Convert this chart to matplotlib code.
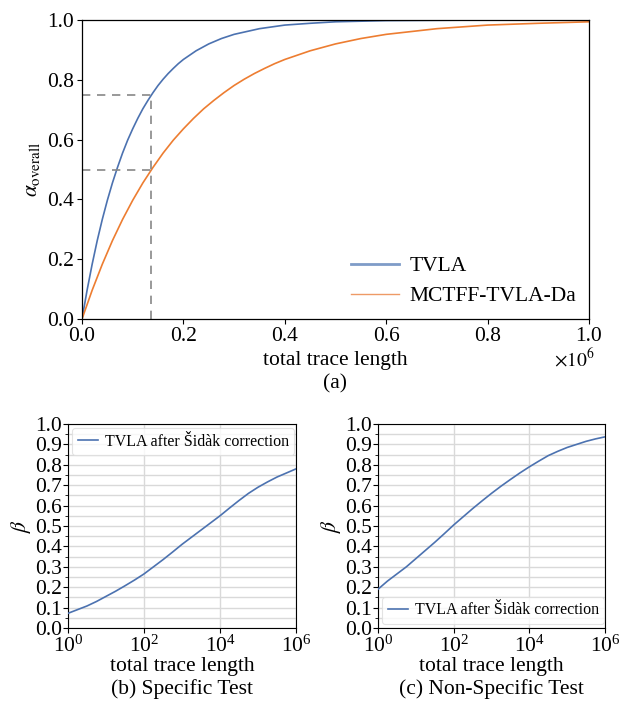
import numpy as np
import matplotlib
matplotlib.use("Agg")
import matplotlib.pyplot as plt
from matplotlib.ticker import MultipleLocator, FixedLocator, NullLocator
from matplotlib.lines import Line2D

plt.rcParams['font.family'] = ['Liberation Serif', 'DejaVu Serif']
plt.rcParams['mathtext.fontset'] = 'stix'

# ---- panel (a) data (x in units of 1e6) ----
tvla_x = [0, 0.01, 0.02, 0.03, 0.04, 0.05, 0.06, 0.07, 0.08, 0.09, 0.10, 0.11, 0.12, 0.13,
          0.14, 0.15, 0.16, 0.17, 0.18, 0.19, 0.20, 0.225, 0.25, 0.275, 0.3, 0.35, 0.4, 0.45,
          0.5, 0.6, 0.7, 0.8, 0.9, 1.0]
tvla_y = [0, 0.096, 0.183, 0.262, 0.333, 0.397, 0.455, 0.507, 0.555, 0.598, 0.636, 0.671, 0.703, 0.731,
          0.757, 0.781, 0.802, 0.821, 0.838, 0.854, 0.868, 0.897, 0.920, 0.938, 0.952, 0.971, 0.983, 0.989,
          0.994, 0.998, 0.999, 1.0, 1.0, 1.0]
mctff_x = [0, 0.02, 0.04, 0.06, 0.08, 0.10, 0.12, 0.14, 0.16, 0.18, 0.20, 0.22, 0.24, 0.26,
           0.28, 0.30, 0.32, 0.34, 0.36, 0.38, 0.40, 0.45, 0.5, 0.55, 0.6, 0.7, 0.8, 0.9, 1.0]
mctff_y = [0, 0.096, 0.183, 0.262, 0.333, 0.397, 0.455, 0.507, 0.555, 0.598, 0.636, 0.671, 0.703, 0.731,
           0.757, 0.781, 0.802, 0.821, 0.838, 0.854, 0.868, 0.897, 0.920, 0.938, 0.952, 0.971, 0.983, 0.989, 0.994]
ref_x = 0.137
ref_levels = [0.75, 0.5]

# ---- panel (b)/(c) data ----
log_x = [0, 0.25, 0.5, 0.75, 1.0, 1.25, 1.5, 1.75, 2.0, 2.25, 2.5, 2.75, 3.0,
         3.25, 3.5, 3.75, 4.0, 4.25, 4.5, 4.75, 5.0, 5.25, 5.5, 5.75, 6.0]
beta_specific = [0.072, 0.09, 0.108, 0.13, 0.155, 0.18, 0.207, 0.235, 0.265, 0.30, 0.335, 0.372, 0.41,
                 0.445, 0.48, 0.515, 0.55, 0.588, 0.625, 0.66, 0.69, 0.716, 0.74, 0.76, 0.78]
beta_nonspecific = [0.19, 0.23, 0.265, 0.30, 0.34, 0.38, 0.42, 0.462, 0.505, 0.545, 0.585, 0.623, 0.66,
                    0.695, 0.728, 0.76, 0.79, 0.818, 0.845, 0.866, 0.885, 0.90, 0.915, 0.927, 0.937]
log_ticks = [1, 1e2, 1e4, 1e6]

W, H = 619, 715
fig = plt.figure(figsize=(W / 100, H / 100), dpi=100)

def ax_px(l, r, t, b):
    return fig.add_axes([l / W, 1 - b / H, (r - l) / W, (b - t) / H])

blue = '#4c72b0'
orange = '#ed7d31'
fs = 15.5

# ---- top panel ----
ax = ax_px(82, 589, 20, 319)
ax.plot(tvla_x, tvla_y, color=blue, lw=1.2)
ax.plot(mctff_x, mctff_y, color=orange, lw=1.2)
for lvl in ref_levels:
    ax.plot([0, ref_x], [lvl, lvl], ls=(0, (5, 4)), color='#888888', lw=1.2)
ax.plot([ref_x, ref_x], [0, ref_levels[0]], ls=(0, (5, 4)), color='#888888', lw=1.2)
ax.set_xlim(0, 1)
ax.set_ylim(0, 1)
ax.xaxis.set_major_locator(MultipleLocator(0.2))
ax.yaxis.set_major_locator(MultipleLocator(0.2))
ax.set_xticklabels([f"{v:.1f}" for v in ax.get_xticks()])
ax.set_yticklabels([f"{v:.1f}" for v in ax.get_yticks()])
ax.tick_params(labelsize=fs, length=3.5, width=0.8, direction='out', pad=2)
ax.set_xlabel('total trace length', fontsize=fs, labelpad=4)
ax.set_ylabel(r'$\alpha_{\mathrm{overall}}$', fontsize=fs, labelpad=4)
fig.text(595 / W, 1 - 348 / H, r'$\times10^{6}$', ha='right', va='top', fontsize=14)
handles = [Line2D([], [], color='#7f9cc8', lw=2.0), Line2D([], [], color='#ee9a66', lw=1.0)]
ax.legend(handles, ['TVLA', 'MCTFF-TVLA-Da'], loc='lower right', frameon=False,
          fontsize=fs, handlelength=2.2, handletextpad=0.5, borderaxespad=0.2, labelspacing=0.45)
for s in ax.spines.values():
    s.set_linewidth(0.9)
fig.text((82 + 589) / 2 / W, 1 - 384 / H, '(a)', ha='center', va='center', fontsize=fs)

# ---- bottom panels ----
def beta_panel(l, r, ys, legend_loc, caption):
    a = ax_px(l, r, 424, 628)
    xs = [10 ** v for v in log_x]
    a.plot(xs, ys, color=blue, lw=1.2, label='TVLA after Šidàk correction', zorder=3)
    a.set_xscale('log')
    a.set_xlim(1, 1e6)
    a.set_ylim(0, 1)
    a.xaxis.set_major_locator(FixedLocator(log_ticks))
    a.xaxis.set_minor_locator(NullLocator())
    a.yaxis.set_major_locator(MultipleLocator(0.1))
    a.yaxis.set_minor_locator(MultipleLocator(0.05))
    a.grid(True, which='major', color='#d9d9d9', lw=1.0)
    a.grid(True, which='minor', axis='y', color='#d9d9d9', lw=1.0)
    a.set_axisbelow(True)
    a.tick_params(labelsize=fs, length=3.5, width=0.8, pad=1)
    a.tick_params(axis='x', pad=2)
    a.tick_params(which='minor', length=2, width=0.6)
    a.set_yticklabels([f"{v:.1f}" for v in a.get_yticks()])
    a.set_xlabel('total trace length', fontsize=fs, labelpad=0)
    a.set_ylabel(r'$\beta$', fontsize=fs, labelpad=1)
    leg = a.legend(loc=legend_loc, fontsize=11.5, handlelength=1.3, handletextpad=0.4,
                   borderaxespad=0.25, borderpad=0.35, framealpha=0.8, edgecolor='#dddddd', fancybox=True)
    leg.get_frame().set_linewidth(0.8)
    fig.text((l + r) / 2 / W, 1 - 689 / H, caption, ha='center', va='center', fontsize=fs)
    return a

beta_panel(68, 296, beta_specific, 'upper left', '(b) Specific Test')
beta_panel(378, 605, beta_nonspecific, 'lower left', '(c) Non-Specific Test')

fig.savefig('out.png', dpi=100)
